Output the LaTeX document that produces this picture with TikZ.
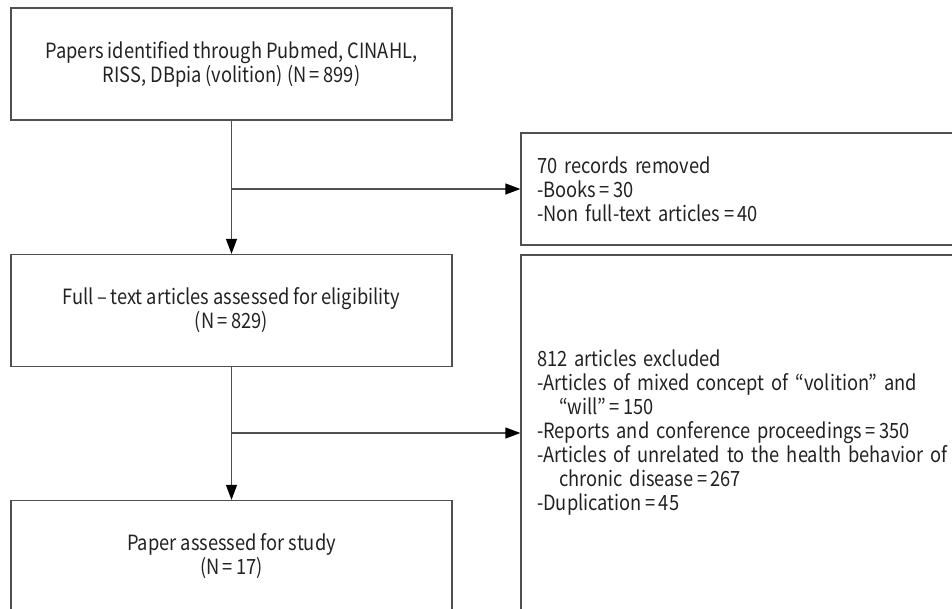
\documentclass[tikz,border=0pt]{standalone}
\usepackage{fontspec}
\setmainfont[FakeStretch=0.87]{Noto Sans CJK KR}
\usetikzlibrary{arrows.meta}
\definecolor{boxline}{HTML}{505050}
\definecolor{ink}{HTML}{222222}

\begin{document}
\begin{tikzpicture}[x=1pt,y=-1pt,line width=1.3pt]
    % `box' is used for the left column (the main flow).
    % `note' is used for the boxes of removed papers on the right.
    % `flow' is used for all connectors.
    \tikzstyle{box} = [draw=boxline,minimum width=441pt,minimum height=112pt,
      align=center,text=ink,font=\fontsize{21}{24}\selectfont,inner sep=0pt]
    \tikzstyle{note} = [draw=boxline,minimum width=452pt,text width=420pt,
      align=left,text=ink,font=\fontsize{21}{24}\selectfont,inner sep=0pt]
    \tikzstyle{flow} = [draw=boxline,-{Triangle[length=15pt,width=11pt,color=black]}]
    %
    \useasboundingbox (0,0) rectangle (952,609);
    \clip (0,0) rectangle (952,609);
    %
    \node[box] (ident) at (231.5,64) {Papers identified through Pubmed, CINAHL,\\
      RISS, DBpia (volition) (N\,=\,899)};
    \node[box] (full) at (231.5,310.5) {Full\,--\,text articles assessed for eligibility\\
      (N\,=\,829)};
    \node[box] (study) at (231.5,556.5) {Paper assessed for study\\(N\,=\,17)};
    %
    \node[note,minimum height=112pt] (removed) at (747,189) {70 records removed\\
      -Books\,=\,30\\
      -Non full-text articles\,=\,40};
    \node[note,minimum height=356pt] (excluded) at (747,433) {812 articles excluded\\
      -Articles of mixed concept of “volition” and\\
      \hspace*{22pt}“will”\,=\,150\\
      -Reports and conference proceedings\,=\,350\\
      -Articles of unrelated to the health behavior of\\
      \hspace*{22pt}chronic disease\,=\,267\\
      -Duplication\,=\,45};
    %
    % Draw lines.
    \draw[flow] (ident) -- (full);
    \draw[flow] (full) -- (study);
    \draw[flow] (ident.south |- removed.west) -- (removed.west);
    \draw[flow] (full.south |- excluded.west) -- (excluded.west);
\end{tikzpicture}
\end{document}
